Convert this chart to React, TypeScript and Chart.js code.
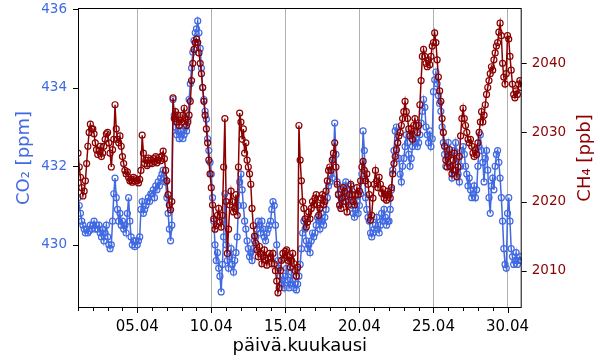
import { useEffect, useRef } from 'react';
import { Chart, registerables } from 'chart.js';

Chart.register(...registerables);

const FONT = 'DejaVu Sans';
const BLUE = '#4169E1';
const RED = '#8B0000';

// 2-hourly samples starting 01.04 00:00
const stepHours = 2;
const month = '04';

const co2 = [
  431.2, 431.0, 430.8, 430.6, 430.5, 430.4, 430.3, 430.4, 430.3, 430.35, 430.5, 430.4,
  430.5, 430.6, 430.4, 430.5, 430.4, 430.5, 430.3, 430.2, 430.4, 430.1, 430.3, 430.5,
  430.2, 430.0, 429.9, 430.0, 430.6, 431.3, 431.7, 431.2, 430.9, 430.6, 430.8, 430.5,
  430.6, 430.4, 430.5, 430.3, 430.8, 431.2, 430.6, 430.2, 430.0, 430.1, 429.95, 430.1,
  430.0, 430.1, 430.2, 430.9, 431.1, 430.8, 430.9, 431.0, 431.1, 431.2, 431.1, 431.3,
  431.3, 431.4, 431.2, 431.5, 431.4, 431.6, 431.5, 431.7, 431.8, 431.9, 431.7, 431.6,
  431.2, 430.8, 430.4, 430.1, 430.5, 433.7, 433.3, 433.0, 432.8, 432.9, 432.7, 432.9,
  432.9, 432.7, 432.8, 433.0, 432.9, 433.2, 433.7, 434.1, 434.5, 434.9, 435.2, 435.4,
  435.5, 435.7, 435.4, 435.0, 434.5, 434.0, 433.7, 433.4, 433.2, 432.7, 432.4, 432.1,
  431.8, 431.2, 430.6, 430.0, 429.6, 429.8, 429.4, 429.2, 428.8, 429.5, 430.2, 431.3,
  430.0, 429.6, 429.4, 429.7, 429.9, 429.5, 429.3, 429.6, 429.8, 430.2, 431.0, 431.6,
  431.8, 431.4, 431.0, 430.6, 430.4, 430.1, 429.9, 429.7, 429.8, 429.6, 429.9, 430.1,
  430.2, 430.4, 430.6, 430.5, 430.3, 430.6, 430.4, 430.2, 430.1, 430.3, 430.4, 430.5,
  430.6, 430.9, 431.1, 431.0, 430.5, 430.0, 429.6, 429.4, 429.2, 429.0, 429.1, 428.9,
  429.2, 429.4, 429.1, 428.9, 429.0, 429.3, 429.1, 428.9, 429.0, 428.85, 429.0, 429.2,
  429.5, 429.9, 430.3, 430.6, 430.4, 430.1, 429.9, 430.0, 429.8, 430.1, 430.3, 430.2,
  430.3, 430.5, 430.7, 430.6, 430.4, 430.8, 430.6, 430.5, 430.7, 430.9, 431.2, 431.5,
  431.6, 431.8, 431.7, 432.2, 433.1, 432.3, 431.6, 431.3, 431.0, 431.2, 431.4, 431.1,
  431.5, 431.6, 431.3, 431.1, 431.4, 431.5, 431.0, 430.8, 430.7, 430.9, 431.1, 430.8,
  431.0, 431.3, 431.8, 432.9, 432.4, 431.2, 430.9, 430.7, 430.6, 430.3, 430.2, 430.3,
  430.4, 430.5, 430.7, 430.4, 430.3, 430.5, 430.8, 430.6, 430.9, 430.7, 430.5, 430.6,
  430.6, 430.9, 431.4, 431.9, 432.4, 432.9, 433.0, 432.6, 432.2, 431.8, 431.6, 432.0,
  432.2, 432.5, 432.8, 432.6, 432.3, 432.0, 432.2, 432.5, 432.8, 432.6, 432.7, 432.5,
  432.6, 432.8, 433.1, 433.4, 433.7, 433.5, 433.0, 432.8, 432.6, 432.9, 432.5, 432.7,
  433.9, 434.2, 434.4, 434.1, 433.8, 433.6, 433.4, 433.0, 432.6, 432.3, 432.0, 432.4,
  432.6, 432.3, 432.0, 431.7, 431.9, 432.4, 432.6, 432.2, 431.8, 431.6, 432.0, 432.4,
  432.5, 432.3, 432.0, 431.8, 431.5, 431.7, 431.4, 431.2, 431.3, 431.5, 431.2, 431.4,
  432.0, 432.5, 432.8, 432.4, 432.1, 431.6, 432.2, 432.4, 431.9, 431.2, 430.8, 431.5,
  431.7, 431.4, 432.0, 432.3, 432.4, 432.1, 431.7, 431.2, 430.6, 429.9, 429.5, 429.4,
  430.8, 431.2, 430.6, 429.9, 429.7, 429.5, 429.6, 429.8, 429.5, 429.6, 429.7, 429.6,
];

const ch4 = [
  2027.0, 2025.0, 2023.5, 2022.0, 2020.8, 2021.5, 2023.0, 2025.5, 2028.0, 2030.0, 2031.2, 2030.5,
  2030.5, 2029.8, 2028.5, 2027.5, 2026.8, 2027.3, 2028.0, 2026.5, 2027.0, 2028.0, 2029.0, 2029.8,
  2030.0, 2028.5, 2027.0, 2025.0, 2027.5, 2029.0, 2034.0, 2030.5, 2029.0, 2028.5, 2029.5, 2028.0,
  2026.5, 2025.5, 2024.5, 2024.0, 2024.3, 2023.5, 2023.0, 2023.2, 2022.8, 2023.5, 2023.0, 2023.3,
  2023.0, 2022.7, 2023.2, 2024.5, 2029.6, 2027.0, 2025.5, 2026.0, 2025.2, 2026.3, 2025.5, 2026.0,
  2025.5, 2026.2, 2025.8, 2026.5, 2025.6, 2026.0, 2026.4, 2025.9, 2026.6, 2027.3, 2026.2, 2024.5,
  2023.0, 2021.0, 2019.5, 2018.8, 2020.0, 2035.0, 2032.0, 2033.0, 2031.5, 2032.5, 2031.0, 2031.8,
  2031.5, 2032.5, 2033.5, 2032.0, 2031.0, 2031.5, 2032.5, 2034.5, 2037.5, 2040.0, 2042.0, 2043.0,
  2043.5, 2043.0, 2041.5, 2040.0, 2038.5, 2036.5, 2034.5, 2032.5, 2030.5, 2028.5, 2026.0, 2024.0,
  2022.0, 2019.5, 2017.5, 2016.0, 2016.5, 2018.0, 2019.0, 2017.0, 2016.3, 2018.0, 2025.0, 2032.0,
  2020.0, 2012.5, 2016.0, 2019.5, 2021.5, 2020.0, 2018.5, 2019.0, 2021.0, 2018.0, 2025.0, 2032.8,
  2031.5, 2029.0, 2030.5, 2027.0, 2028.5, 2026.0, 2025.0, 2024.0, 2022.5, 2019.0, 2016.5, 2015.0,
  2014.0, 2013.0, 2012.0, 2013.5, 2012.5, 2011.0, 2012.0, 2013.0, 2011.5, 2010.8, 2011.8, 2012.5,
  2012.0, 2011.0, 2012.5, 2011.0, 2010.0, 2008.5, 2006.8, 2007.5, 2010.0, 2011.5, 2012.5, 2011.8,
  2012.8, 2013.0, 2011.5, 2012.0, 2010.5, 2011.5, 2012.5, 2011.0, 2010.0, 2009.2, 2010.5, 2031.0,
  2026.0, 2023.0, 2020.0, 2019.0, 2017.5, 2016.3, 2017.0, 2018.5, 2017.5, 2019.0, 2020.0, 2019.5,
  2020.5, 2021.0, 2019.5, 2018.0, 2019.0, 2020.5, 2021.0, 2019.5, 2020.0, 2021.5, 2023.0, 2024.5,
  2025.0, 2024.5, 2026.0, 2027.0, 2028.5, 2025.0, 2022.5, 2021.0, 2019.5, 2019.0, 2020.5, 2022.0,
  2021.5, 2020.0, 2018.5, 2019.5, 2021.0, 2022.5, 2021.0, 2020.0, 2019.5, 2021.0, 2022.0, 2021.0,
  2021.5, 2023.0, 2025.0, 2025.8, 2024.5, 2023.0, 2024.0, 2022.5, 2021.0, 2017.3, 2018.0, 2020.5,
  2022.5, 2024.5, 2023.0, 2022.0, 2023.5, 2022.5, 2021.2, 2021.8, 2020.5, 2021.0, 2020.2, 2021.5,
  2021.0, 2020.5, 2022.0, 2024.0, 2025.5, 2026.5, 2027.5, 2028.5, 2029.5, 2030.0, 2031.0, 2032.0,
  2033.0, 2034.5, 2033.0, 2032.0, 2030.5, 2029.5, 2030.5, 2029.0, 2031.0, 2032.0, 2031.0, 2030.0,
  2031.0, 2034.0, 2037.5, 2041.0, 2042.0, 2041.0, 2040.0, 2039.5, 2040.5, 2039.8, 2041.0, 2042.5,
  2043.0, 2044.4, 2043.0, 2040.5, 2038.0, 2036.0, 2034.5, 2032.0, 2030.0, 2028.0, 2026.0, 2025.0,
  2026.5, 2027.5, 2025.0, 2024.0, 2026.0, 2027.0, 2024.5, 2023.6, 2025.0, 2026.5, 2029.5, 2032.0,
  2033.5, 2032.0, 2031.0, 2030.0, 2029.0, 2028.5, 2029.0, 2028.0, 2027.0, 2026.5, 2027.5, 2026.8,
  2028.5, 2030.0, 2031.5, 2033.0, 2031.5, 2032.5, 2034.0, 2035.5, 2036.5, 2037.5, 2038.5, 2039.5,
  2039.0, 2040.5, 2041.5, 2042.5, 2043.0, 2044.5, 2045.8, 2044.0, 2040.0, 2038.0, 2037.0, 2038.5,
  2044.0, 2043.5, 2041.0, 2039.0, 2037.0, 2035.5, 2035.0, 2036.0, 2035.5, 2037.0, 2037.5, 2036.5,
];

const xTickDays = [5, 10, 15, 20, 25, 30];
const xMinorDays = [1, 2, 3, 4, 6, 7, 8, 9, 11, 12, 13, 14, 16, 17, 18, 19, 21, 22, 23, 24, 26, 27, 28, 29];
const co2Ticks = [430, 432, 434, 436];
const ch4Ticks = [2010, 2020, 2030, 2040];

const hours = co2.map((_, i) => i * stepHours);

const dayToHours = (d: number) => (d - 1) * 24;

const framePlugin = {
  id: 'frameAndTitles',
  afterDraw(chart: any) {
    const { ctx, chartArea, scales } = chart;
    const { left, right, top, bottom } = chartArea;
    ctx.save();
    ctx.strokeStyle = '#000';
    ctx.lineWidth = 1;
    ctx.strokeRect(left + 0.5, top + 0.5, right - left - 1, bottom - top - 1);
    ctx.beginPath();
    xTickDays.forEach((d) => {
      const px = Math.round(scales.x.getPixelForValue(dayToHours(d))) + 0.5;
      ctx.moveTo(px, bottom);
      ctx.lineTo(px, bottom + 5);
    });
    xMinorDays.forEach((d) => {
      const px = Math.round(scales.x.getPixelForValue(dayToHours(d))) + 0.5;
      ctx.moveTo(px, bottom);
      ctx.lineTo(px, bottom + 3);
    });
    co2Ticks.forEach((v) => {
      const py = Math.round(scales.y.getPixelForValue(v)) + 0.5;
      ctx.moveTo(left - 5, py);
      ctx.lineTo(left, py);
    });
    ch4Ticks.forEach((v) => {
      const py = Math.round(scales.y1.getPixelForValue(v)) + 0.5;
      ctx.moveTo(right, py);
      ctx.lineTo(right + 5, py);
    });
    ctx.stroke();

    ctx.font = `18px "${FONT}"`;
    ctx.textAlign = 'center';
    ctx.textBaseline = 'alphabetic';
    ctx.fillStyle = '#000';
    ctx.fillText('päivä.kuukausi', (left + right) / 2, 351);

    const midY = (top + bottom) / 2;
    ctx.save();
    ctx.translate(29, midY);
    ctx.rotate(-Math.PI / 2);
    ctx.fillStyle = BLUE;
    ctx.fillText('CO₂ [ppm]', 0, 0);
    ctx.restore();

    ctx.save();
    ctx.translate(590, midY);
    ctx.rotate(-Math.PI / 2);
    ctx.fillStyle = RED;
    ctx.fillText('CH₄ [ppb]', 0, 0);
    ctx.restore();

    ctx.restore();
  },
};

export default function App() {
  const ref = useRef<HTMLCanvasElement | null>(null);

  useEffect(() => {
    if (!ref.current) return;
    const chart = new Chart(ref.current, {
      type: 'line',
      data: {
        datasets: [
          {
            label: 'CH4',
            data: ch4.map((v, i) => ({ x: hours[i], y: v })),
            yAxisID: 'y1',
            borderColor: RED,
            borderWidth: 1.5,
            pointRadius: 3,
            pointBorderWidth: 1.2,
            pointBorderColor: RED,
            pointBackgroundColor: 'rgba(0,0,0,0)',
            tension: 0,
            order: 1,
          },
          {
            label: 'CO2',
            data: co2.map((v, i) => ({ x: hours[i], y: v })),
            yAxisID: 'y',
            borderColor: BLUE,
            borderWidth: 1.5,
            pointRadius: 3,
            pointBorderWidth: 1.2,
            pointBorderColor: BLUE,
            pointBackgroundColor: 'rgba(0,0,0,0)',
            tension: 0,
            order: 2,
          },
        ],
      },
      options: {
        responsive: false,
        animation: false,
        events: [],
        layout: { padding: { top: 8, left: 0, right: 0, bottom: 0 } },
        plugins: { legend: { display: false }, tooltip: { enabled: false } },
        scales: {
          x: {
            type: 'linear',
            min: 0,
            max: 719,
            afterBuildTicks: (s: any) => {
              s.ticks = xTickDays.map((d) => ({ value: dayToHours(d) }));
            },
            afterFit: (s: any) => {
              s.height = 52;
              s.paddingLeft = 0;
              s.paddingRight = 0;
            },
            ticks: {
              autoSkip: false,
              maxRotation: 0,
              padding: 10,
              color: '#000',
              font: { family: FONT, size: 15 },
              callback: (v: any) => {
                const d = Math.round(Number(v) / 24) + 1;
                return String(d).padStart(2, '0') + '.' + month;
              },
            },
            grid: { color: '#b0b0b0', lineWidth: 1, drawTicks: false },
            border: { display: false },
          },
          y: {
            type: 'linear',
            position: 'left',
            min: 428.39,
            max: 436.03,
            afterBuildTicks: (s: any) => {
              s.ticks = co2Ticks.map((v) => ({ value: v }));
            },
            afterFit: (s: any) => {
              s.width = 78;
              s.paddingTop = 0;
              s.paddingBottom = 0;
            },
            ticks: {
              color: BLUE,
              padding: 11,
              font: { family: FONT, size: 13.5 },
              callback: (v: any) => String(v),
            },
            grid: { display: false, drawTicks: false },
            border: { display: false },
          },
          y1: {
            type: 'linear',
            position: 'right',
            min: 2004.6,
            max: 2048.0,
            afterBuildTicks: (s: any) => {
              s.ticks = ch4Ticks.map((v) => ({ value: v }));
            },
            afterFit: (s: any) => {
              s.width = 78.3;
              s.paddingTop = 0;
              s.paddingBottom = 0;
            },
            ticks: {
              color: RED,
              padding: 10,
              font: { family: FONT, size: 13.5 },
              callback: (v: any) => String(v),
            },
            grid: { display: false, drawTicks: false },
            border: { display: false },
          },
        },
      },
      plugins: [framePlugin],
    });
    return () => chart.destroy();
  }, []);

  return (
    <div style={{ position: 'fixed', left: 0, top: 0, width: 600, height: 360, background: '#fff' }}>
      <canvas ref={ref} width={600} height={360} />
    </div>
  );
}
